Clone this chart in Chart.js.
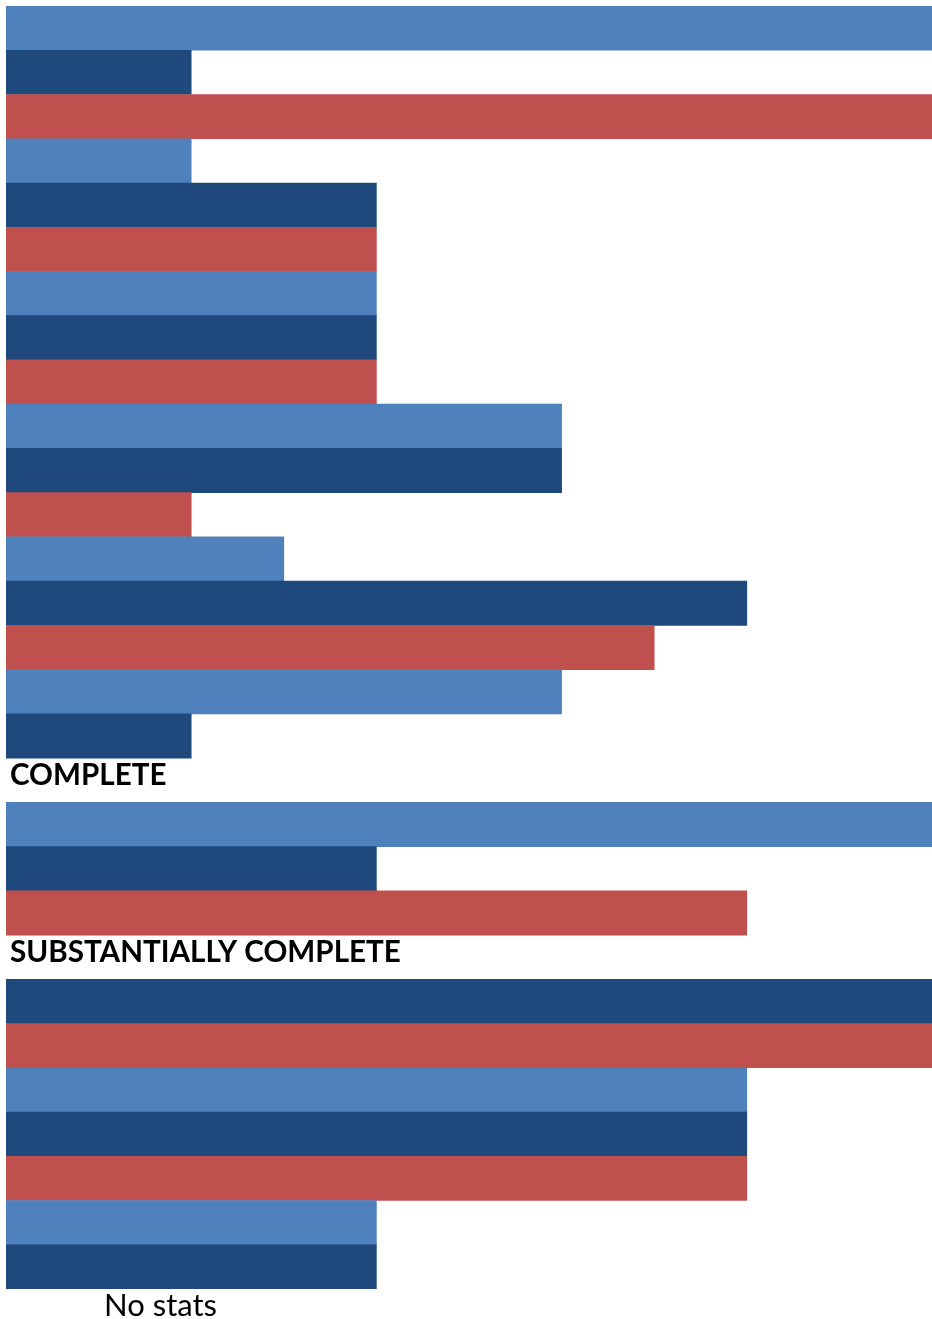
<!DOCTYPE html>
<html>
<head>
<meta charset="utf-8">
<title>Status bars</title>
<script src="https://cdn.jsdelivr.net/npm/chart.js@4/dist/chart.umd.min.js"></script>
<style>
  html, body { margin: 0; padding: 0; background: #fff; }
  #wrap { width: 932px; height: 1319px; position: relative; }
</style>
</head>
<body>
<div id="wrap"><canvas id="statusChart"></canvas></div>
<script>
(function() {
  'use strict';

  // --- Data ---
  const categories = [
    'r1','r2','r3','r4','r5','r6','r7','r8','r9','r10',
    'r11','r12','r13','r14','r15','r16','r17','COMPLETE',
    'r19','r20','r21','SUBSTANTIALLY COMPLETE',
    'r23','r24','r25','r26','r27','r28','r29'
  ];
  // null = heading row, no bar
  const values = [
    5, 1, 5, 1, 2, 2, 2, 2, 2, 3,
    3, 1, 1.5, 4, 3.5, 3, 1, null,
    5, 2, 4, null,
    5, 5, 4, 4, 4, 2, 2
  ];
  // section headings sit on the empty rows (index = category row)
  const headingRows  = [17, 21, 29];
  const headingTexts = ['COMPLETE', 'SUBSTANTIALLY COMPLETE', 'No stats'];
  const headingBold  = [true, true, false];

  const palette = ['#4f81bd', '#1f497d', '#c0504d'];
  const barColors = values.map((v, i) => palette[i % 3]);

  // --- Heading text plugin ---
  const headingPlugin = {
    id: 'headings',
    afterDraw(chart) {
      const ctx = chart.ctx;
      const y = chart.scales.y;
      const left = chart.chartArea.left;
      ctx.save();
      ctx.fillStyle = '#000';
      ctx.textBaseline = 'alphabetic';
      headingRows.forEach((row, i) => {
        const cy = y.getPixelForValue(row) + 5;
        if (headingBold[i]) {
          ctx.font = 'bold 29.6px Lato';
          ctx.textAlign = 'left';
          ctx.fillText(headingTexts[i], left + 4, cy);
        } else {
          ctx.font = '31px Lato';
          ctx.textAlign = 'center';
          ctx.fillText(headingTexts[i], left + 154.5, cy);
        }
      });
      ctx.restore();
    }
  };

  function draw() {
    new Chart(document.getElementById('statusChart'), {
      type: 'bar',
      data: {
        labels: categories,
        datasets: [{
          data: values,
          backgroundColor: barColors,
          borderWidth: 0,
          barPercentage: 1,
          categoryPercentage: 1
        }]
      },
      options: {
        indexAxis: 'y',
        responsive: true,
        maintainAspectRatio: false,
        animation: false,
        layout: { padding: { top: 6, left: 6, right: 0, bottom: 30 } },
        plugins: {
          legend: { display: false },
          tooltip: { enabled: false }
        },
        scales: {
          x: { display: false, min: 0, max: 5 },
          y: { display: false }
        }
      },
      plugins: [headingPlugin]
    });
  }

  Promise.all([
    document.fonts.load('bold 30px Lato'),
    document.fonts.load('31px Lato')
  ]).then(draw, draw);
})();
</script>
</body>
</html>
